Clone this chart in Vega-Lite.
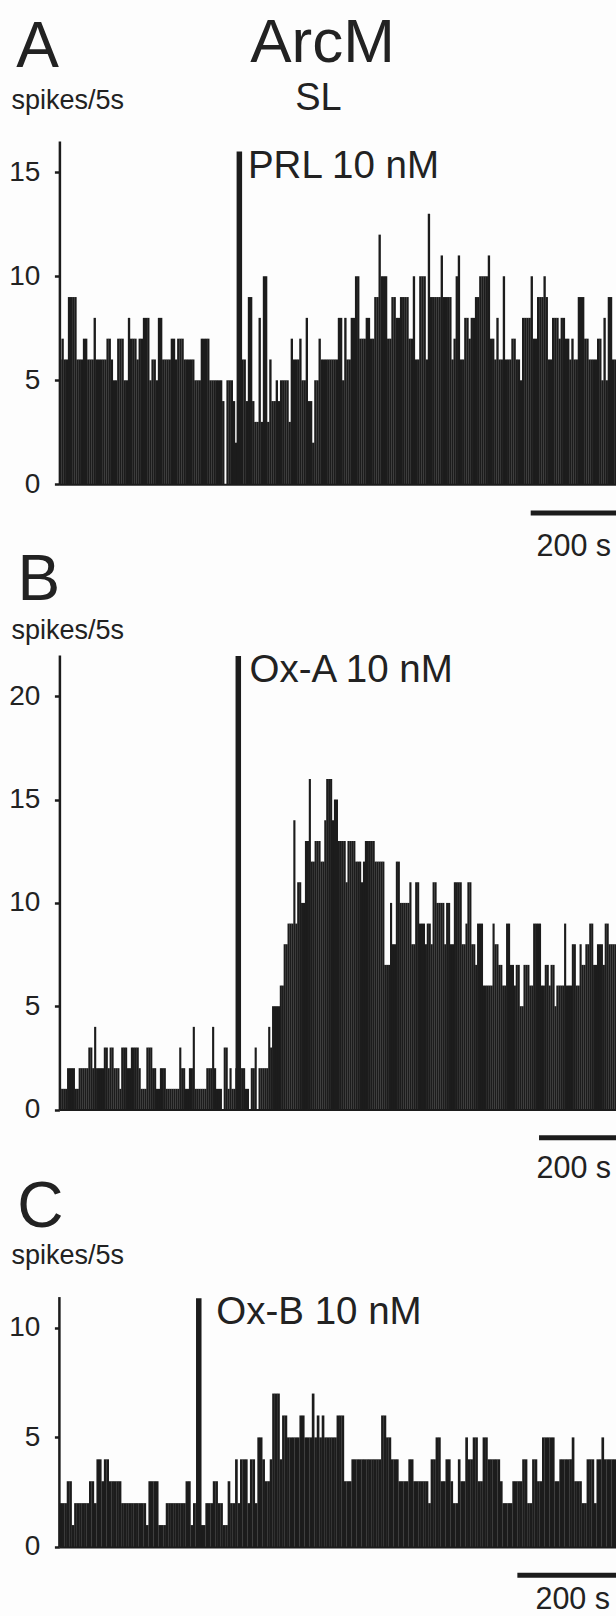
{
"$schema": "https://vega.github.io/schema/vega-lite/v6.json",
"background": "#fdfdfd",
"padding": {"left": 8.4, "top": 11, "right": 0, "bottom": 0},
"bounds": "flush",
"spacing": 170,
"config": {
  "view": {"stroke": null},
  "font": "Liberation Sans",
  "text": {"font": "Liberation Sans", "color": "#222222"},
  "scale": {"continuousPadding": 0},
  "axis": {"domainColor": "#1c1c1c", "tickColor": "#1c1c1c", "labelColor": "#222222", "labelFont": "Liberation Sans", "labelFontSize": 28, "titleFont": "Liberation Sans", "titleFontSize": 27, "titleFontWeight": "normal", "titleColor": "#222222", "grid": false},
  "axisY": {"domainWidth": 2.5, "tickWidth": 2.5, "tickSize": 5, "labelPadding": 14.5, "titleAngle": 0, "titleAlign": "left", "titleBaseline": "alphabetic", "titleX": -48.5}
},
"datasets": {
"A": [{"i":0,"v":6},{"i":1,"v":7},{"i":2,"v":6},{"i":3,"v":6},{"i":4,"v":9},{"i":5,"v":9},{"i":6,"v":9},{"i":7,"v":9},{"i":8,"v":6},{"i":9,"v":6},
{"i":10,"v":6},{"i":11,"v":7},{"i":12,"v":7},{"i":13,"v":6},{"i":14,"v":6},{"i":15,"v":6},{"i":16,"v":8},{"i":17,"v":6},{"i":18,"v":6},{"i":19,"v":6},
{"i":20,"v":6},{"i":21,"v":6},{"i":22,"v":7},{"i":23,"v":7},{"i":24,"v":6},{"i":25,"v":5},{"i":26,"v":5},{"i":27,"v":7},{"i":28,"v":7},{"i":29,"v":7},
{"i":30,"v":5},{"i":31,"v":5},{"i":32,"v":8},{"i":33,"v":7},{"i":34,"v":7},{"i":35,"v":7},{"i":36,"v":6},{"i":37,"v":7},{"i":38,"v":7},{"i":39,"v":8},
{"i":40,"v":8},{"i":41,"v":8},{"i":42,"v":5},{"i":43,"v":6},{"i":44,"v":6},{"i":45,"v":5},{"i":46,"v":8},{"i":47,"v":8},{"i":48,"v":6},{"i":49,"v":6},
{"i":50,"v":6},{"i":51,"v":6},{"i":52,"v":7},{"i":53,"v":7},{"i":54,"v":6},{"i":55,"v":7},{"i":56,"v":7},{"i":57,"v":7},{"i":58,"v":6},{"i":59,"v":6},
{"i":60,"v":6},{"i":61,"v":6},{"i":62,"v":6},{"i":63,"v":5},{"i":64,"v":5},{"i":65,"v":5},{"i":66,"v":7},{"i":67,"v":7},{"i":68,"v":7},{"i":69,"v":7},
{"i":70,"v":5},{"i":71,"v":5},{"i":72,"v":5},{"i":73,"v":5},{"i":74,"v":5},{"i":75,"v":5},{"i":76,"v":4},{"i":77,"v":0},{"i":78,"v":5},{"i":79,"v":5},
{"i":80,"v":5},{"i":81,"v":4},{"i":82,"v":2},{"i":83,"v":6},{"i":84,"v":6},{"i":85,"v":6},{"i":86,"v":6},{"i":87,"v":4},{"i":88,"v":9},{"i":89,"v":9},
{"i":90,"v":4},{"i":91,"v":3},{"i":92,"v":3},{"i":93,"v":8},{"i":94,"v":3},{"i":95,"v":10},{"i":96,"v":10},{"i":97,"v":3},{"i":98,"v":6},{"i":99,"v":4},
{"i":100,"v":4},{"i":101,"v":5},{"i":102,"v":4},{"i":103,"v":5},{"i":104,"v":5},{"i":105,"v":5},{"i":106,"v":5},{"i":107,"v":3},{"i":108,"v":7},{"i":109,"v":6},
{"i":110,"v":6},{"i":111,"v":6},{"i":112,"v":7},{"i":113,"v":5},{"i":114,"v":5},{"i":115,"v":8},{"i":116,"v":4},{"i":117,"v":4},{"i":118,"v":2},{"i":119,"v":5},
{"i":120,"v":5},{"i":121,"v":7},{"i":122,"v":6},{"i":123,"v":6},{"i":124,"v":6},{"i":125,"v":6},{"i":126,"v":6},{"i":127,"v":6},{"i":128,"v":6},{"i":129,"v":6},
{"i":130,"v":8},{"i":131,"v":8},{"i":132,"v":5},{"i":133,"v":8},{"i":134,"v":6},{"i":135,"v":6},{"i":136,"v":8},{"i":137,"v":8},{"i":138,"v":10},{"i":139,"v":10},
{"i":140,"v":7},{"i":141,"v":7},{"i":142,"v":7},{"i":143,"v":8},{"i":144,"v":8},{"i":145,"v":7},{"i":146,"v":7},{"i":147,"v":9},{"i":148,"v":9},{"i":149,"v":12},
{"i":150,"v":10},{"i":151,"v":10},{"i":152,"v":10},{"i":153,"v":7},{"i":154,"v":7},{"i":155,"v":9},{"i":156,"v":9},{"i":157,"v":8},{"i":158,"v":8},{"i":159,"v":9},
{"i":160,"v":9},{"i":161,"v":9},{"i":162,"v":9},{"i":163,"v":7},{"i":164,"v":7},{"i":165,"v":10},{"i":166,"v":6},{"i":167,"v":6},{"i":168,"v":10},{"i":169,"v":10},
{"i":170,"v":10},{"i":171,"v":6},{"i":172,"v":13},{"i":173,"v":9},{"i":174,"v":9},{"i":175,"v":9},{"i":176,"v":9},{"i":177,"v":9},{"i":178,"v":11},{"i":179,"v":9},
{"i":180,"v":9},{"i":181,"v":9},{"i":182,"v":9},{"i":183,"v":6},{"i":184,"v":7},{"i":185,"v":10},{"i":186,"v":11},{"i":187,"v":6},{"i":188,"v":6},{"i":189,"v":8},
{"i":190,"v":8},{"i":191,"v":7},{"i":192,"v":8},{"i":193,"v":8},{"i":194,"v":9},{"i":195,"v":9},{"i":196,"v":10},{"i":197,"v":10},{"i":198,"v":10},{"i":199,"v":10},
{"i":200,"v":11},{"i":201,"v":7},{"i":202,"v":7},{"i":203,"v":6},{"i":204,"v":8},{"i":205,"v":6},{"i":206,"v":6},{"i":207,"v":10},{"i":208,"v":6},{"i":209,"v":6},
{"i":210,"v":6},{"i":211,"v":7},{"i":212,"v":7},{"i":213,"v":6},{"i":214,"v":6},{"i":215,"v":5},{"i":216,"v":8},{"i":217,"v":8},{"i":218,"v":8},{"i":219,"v":8},
{"i":220,"v":10},{"i":221,"v":7},{"i":222,"v":7},{"i":223,"v":9},{"i":224,"v":9},{"i":225,"v":9},{"i":226,"v":10},{"i":227,"v":9},{"i":228,"v":6},{"i":229,"v":6},
{"i":230,"v":8},{"i":231,"v":8},{"i":232,"v":8},{"i":233,"v":7},{"i":234,"v":8},{"i":235,"v":8},{"i":236,"v":7},{"i":237,"v":7},{"i":238,"v":6},{"i":239,"v":7},
{"i":240,"v":6},{"i":241,"v":6},{"i":242,"v":9},{"i":243,"v":9},{"i":244,"v":9},{"i":245,"v":7},{"i":246,"v":7},{"i":247,"v":6},{"i":248,"v":6},{"i":249,"v":6},
{"i":250,"v":6},{"i":251,"v":7},{"i":252,"v":7},{"i":253,"v":5},{"i":254,"v":8},{"i":255,"v":5},{"i":256,"v":9},{"i":257,"v":9},{"i":258,"v":6},{"i":259,"v":6}],
"B": [{"i":0,"v":1},{"i":1,"v":1},{"i":2,"v":1},{"i":3,"v":1},{"i":4,"v":2},{"i":5,"v":2},{"i":6,"v":2},{"i":7,"v":2},{"i":8,"v":1},{"i":9,"v":1},
{"i":10,"v":2},{"i":11,"v":2},{"i":12,"v":2},{"i":13,"v":2},{"i":14,"v":2},{"i":15,"v":3},{"i":16,"v":3},{"i":17,"v":2},{"i":18,"v":4},{"i":19,"v":2},
{"i":20,"v":2},{"i":21,"v":2},{"i":22,"v":2},{"i":23,"v":3},{"i":24,"v":3},{"i":25,"v":2},{"i":26,"v":3},{"i":27,"v":3},{"i":28,"v":2},{"i":29,"v":2},
{"i":30,"v":2},{"i":31,"v":1},{"i":32,"v":3},{"i":33,"v":3},{"i":34,"v":3},{"i":35,"v":2},{"i":36,"v":2},{"i":37,"v":3},{"i":38,"v":3},{"i":39,"v":3},
{"i":40,"v":3},{"i":41,"v":2},{"i":42,"v":1},{"i":43,"v":1},{"i":44,"v":1},{"i":45,"v":3},{"i":46,"v":3},{"i":47,"v":3},{"i":48,"v":2},{"i":49,"v":2},
{"i":50,"v":1},{"i":51,"v":1},{"i":52,"v":2},{"i":53,"v":2},{"i":54,"v":2},{"i":55,"v":1},{"i":56,"v":1},{"i":57,"v":1},{"i":58,"v":1},{"i":59,"v":1},
{"i":60,"v":1},{"i":61,"v":1},{"i":62,"v":3},{"i":63,"v":2},{"i":64,"v":2},{"i":65,"v":1},{"i":66,"v":1},{"i":67,"v":2},{"i":68,"v":2},{"i":69,"v":4},
{"i":70,"v":1},{"i":71,"v":1},{"i":72,"v":1},{"i":73,"v":1},{"i":74,"v":1},{"i":75,"v":1},{"i":76,"v":2},{"i":77,"v":2},{"i":78,"v":2},{"i":79,"v":4},
{"i":80,"v":2},{"i":81,"v":1},{"i":82,"v":1},{"i":83,"v":1},{"i":84,"v":0},{"i":85,"v":3},{"i":86,"v":3},{"i":87,"v":1},{"i":88,"v":2},{"i":89,"v":1},
{"i":90,"v":1},{"i":91,"v":2},{"i":92,"v":2},{"i":93,"v":2},{"i":94,"v":2},{"i":95,"v":2},{"i":96,"v":1},{"i":97,"v":1},{"i":98,"v":0},{"i":99,"v":2},
{"i":100,"v":2},{"i":101,"v":3},{"i":102,"v":0},{"i":103,"v":2},{"i":104,"v":2},{"i":105,"v":2},{"i":106,"v":2},{"i":107,"v":2},{"i":108,"v":4},{"i":109,"v":3},
{"i":110,"v":5},{"i":111,"v":5},{"i":112,"v":5},{"i":113,"v":5},{"i":114,"v":6},{"i":115,"v":6},{"i":116,"v":8},{"i":117,"v":8},{"i":118,"v":9},{"i":119,"v":9},
{"i":120,"v":9},{"i":121,"v":14},{"i":122,"v":9},{"i":123,"v":11},{"i":124,"v":11},{"i":125,"v":10},{"i":126,"v":10},{"i":127,"v":13},{"i":128,"v":13},{"i":129,"v":16},
{"i":130,"v":12},{"i":131,"v":12},{"i":132,"v":13},{"i":133,"v":13},{"i":134,"v":13},{"i":135,"v":12},{"i":136,"v":12},{"i":137,"v":14},{"i":138,"v":16},{"i":139,"v":16},
{"i":140,"v":16},{"i":141,"v":14},{"i":142,"v":15},{"i":143,"v":15},{"i":144,"v":13},{"i":145,"v":13},{"i":146,"v":13},{"i":147,"v":13},{"i":148,"v":11},{"i":149,"v":13},
{"i":150,"v":13},{"i":151,"v":13},{"i":152,"v":13},{"i":153,"v":12},{"i":154,"v":12},{"i":155,"v":12},{"i":156,"v":11},{"i":157,"v":12},{"i":158,"v":13},{"i":159,"v":13},
{"i":160,"v":13},{"i":161,"v":13},{"i":162,"v":13},{"i":163,"v":12},{"i":164,"v":12},{"i":165,"v":12},{"i":166,"v":12},{"i":167,"v":12},{"i":168,"v":7},{"i":169,"v":7},
{"i":170,"v":7},{"i":171,"v":10},{"i":172,"v":8},{"i":173,"v":8},{"i":174,"v":12},{"i":175,"v":12},{"i":176,"v":10},{"i":177,"v":10},{"i":178,"v":10},{"i":179,"v":10},
{"i":180,"v":10},{"i":181,"v":11},{"i":182,"v":8},{"i":183,"v":8},{"i":184,"v":11},{"i":185,"v":11},{"i":186,"v":9},{"i":187,"v":9},{"i":188,"v":9},{"i":189,"v":8},
{"i":190,"v":9},{"i":191,"v":9},{"i":192,"v":8},{"i":193,"v":11},{"i":194,"v":11},{"i":195,"v":10},{"i":196,"v":10},{"i":197,"v":10},{"i":198,"v":10},{"i":199,"v":8},
{"i":200,"v":10},{"i":201,"v":10},{"i":202,"v":8},{"i":203,"v":8},{"i":204,"v":11},{"i":205,"v":11},{"i":206,"v":11},{"i":207,"v":11},{"i":208,"v":8},{"i":209,"v":8},
{"i":210,"v":9},{"i":211,"v":11},{"i":212,"v":11},{"i":213,"v":8},{"i":214,"v":8},{"i":215,"v":7},{"i":216,"v":9},{"i":217,"v":9},{"i":218,"v":9},{"i":219,"v":6},
{"i":220,"v":6},{"i":221,"v":6},{"i":222,"v":6},{"i":223,"v":6},{"i":224,"v":9},{"i":225,"v":8},{"i":226,"v":8},{"i":227,"v":7},{"i":228,"v":7},{"i":229,"v":6},
{"i":230,"v":6},{"i":231,"v":9},{"i":232,"v":9},{"i":233,"v":7},{"i":234,"v":7},{"i":235,"v":6},{"i":236,"v":7},{"i":237,"v":7},{"i":238,"v":5},{"i":239,"v":5},
{"i":240,"v":7},{"i":241,"v":7},{"i":242,"v":7},{"i":243,"v":6},{"i":244,"v":6},{"i":245,"v":9},{"i":246,"v":9},{"i":247,"v":9},{"i":248,"v":9},{"i":249,"v":6},
{"i":250,"v":6},{"i":251,"v":7},{"i":252,"v":7},{"i":253,"v":6},{"i":254,"v":7},{"i":255,"v":7},{"i":256,"v":5},{"i":257,"v":6},{"i":258,"v":6},{"i":259,"v":6},
{"i":260,"v":6},{"i":261,"v":9},{"i":262,"v":6},{"i":263,"v":6},{"i":264,"v":6},{"i":265,"v":8},{"i":266,"v":8},{"i":267,"v":6},{"i":268,"v":6},{"i":269,"v":8},
{"i":270,"v":7},{"i":271,"v":7},{"i":272,"v":8},{"i":273,"v":8},{"i":274,"v":9},{"i":275,"v":9},{"i":276,"v":7},{"i":277,"v":7},{"i":278,"v":8},{"i":279,"v":8},
{"i":280,"v":8},{"i":281,"v":7},{"i":282,"v":9},{"i":283,"v":9},{"i":284,"v":8},{"i":285,"v":8},{"i":286,"v":8},{"i":287,"v":8}],
"C": [{"i":0,"v":2},{"i":1,"v":2},{"i":2,"v":2},{"i":3,"v":3},{"i":4,"v":3},{"i":5,"v":1},{"i":6,"v":2},{"i":7,"v":2},{"i":8,"v":2},{"i":9,"v":2},
{"i":10,"v":2},{"i":11,"v":2},{"i":12,"v":3},{"i":13,"v":3},{"i":14,"v":2},{"i":15,"v":4},{"i":16,"v":4},{"i":17,"v":3},{"i":18,"v":4},{"i":19,"v":4},
{"i":20,"v":3},{"i":21,"v":3},{"i":22,"v":3},{"i":23,"v":3},{"i":24,"v":3},{"i":25,"v":2},{"i":26,"v":2},{"i":27,"v":2},{"i":28,"v":2},{"i":29,"v":2},
{"i":30,"v":2},{"i":31,"v":2},{"i":32,"v":2},{"i":33,"v":2},{"i":34,"v":2},{"i":35,"v":1},{"i":36,"v":3},{"i":37,"v":3},{"i":38,"v":3},{"i":39,"v":3},
{"i":40,"v":1},{"i":41,"v":1},{"i":42,"v":1},{"i":43,"v":2},{"i":44,"v":2},{"i":45,"v":2},{"i":46,"v":2},{"i":47,"v":2},{"i":48,"v":2},{"i":49,"v":2},
{"i":50,"v":2},{"i":51,"v":3},{"i":52,"v":3},{"i":53,"v":1},{"i":54,"v":2},{"i":55,"v":2},{"i":56,"v":2},{"i":57,"v":1},{"i":58,"v":1},{"i":59,"v":2},
{"i":60,"v":2},{"i":61,"v":2},{"i":62,"v":3},{"i":63,"v":3},{"i":64,"v":2},{"i":65,"v":2},{"i":66,"v":1},{"i":67,"v":1},{"i":68,"v":3},{"i":69,"v":2},
{"i":70,"v":2},{"i":71,"v":4},{"i":72,"v":2},{"i":73,"v":4},{"i":74,"v":4},{"i":75,"v":4},{"i":76,"v":2},{"i":77,"v":4},{"i":78,"v":4},{"i":79,"v":2},
{"i":80,"v":5},{"i":81,"v":5},{"i":82,"v":4},{"i":83,"v":3},{"i":84,"v":3},{"i":85,"v":4},{"i":86,"v":7},{"i":87,"v":7},{"i":88,"v":7},{"i":89,"v":4},
{"i":90,"v":6},{"i":91,"v":6},{"i":92,"v":5},{"i":93,"v":5},{"i":94,"v":5},{"i":95,"v":5},{"i":96,"v":5},{"i":97,"v":6},{"i":98,"v":6},{"i":99,"v":5},
{"i":100,"v":5},{"i":101,"v":5},{"i":102,"v":7},{"i":103,"v":5},{"i":104,"v":6},{"i":105,"v":5},{"i":106,"v":6},{"i":107,"v":5},{"i":108,"v":5},{"i":109,"v":5},
{"i":110,"v":5},{"i":111,"v":5},{"i":112,"v":6},{"i":113,"v":6},{"i":114,"v":6},{"i":115,"v":3},{"i":116,"v":3},{"i":117,"v":3},{"i":118,"v":4},{"i":119,"v":4},
{"i":120,"v":4},{"i":121,"v":4},{"i":122,"v":4},{"i":123,"v":4},{"i":124,"v":4},{"i":125,"v":4},{"i":126,"v":4},{"i":127,"v":4},{"i":128,"v":4},{"i":129,"v":4},
{"i":130,"v":6},{"i":131,"v":6},{"i":132,"v":5},{"i":133,"v":5},{"i":134,"v":4},{"i":135,"v":4},{"i":136,"v":4},{"i":137,"v":3},{"i":138,"v":3},{"i":139,"v":3},
{"i":140,"v":3},{"i":141,"v":4},{"i":142,"v":4},{"i":143,"v":3},{"i":144,"v":3},{"i":145,"v":3},{"i":146,"v":3},{"i":147,"v":3},{"i":148,"v":3},{"i":149,"v":2},
{"i":150,"v":4},{"i":151,"v":4},{"i":152,"v":5},{"i":153,"v":5},{"i":154,"v":3},{"i":155,"v":3},{"i":156,"v":4},{"i":157,"v":4},{"i":158,"v":3},{"i":159,"v":2},
{"i":160,"v":2},{"i":161,"v":4},{"i":162,"v":3},{"i":163,"v":3},{"i":164,"v":5},{"i":165,"v":4},{"i":166,"v":4},{"i":167,"v":5},{"i":168,"v":5},{"i":169,"v":3},
{"i":170,"v":3},{"i":171,"v":5},{"i":172,"v":5},{"i":173,"v":4},{"i":174,"v":4},{"i":175,"v":4},{"i":176,"v":4},{"i":177,"v":4},{"i":178,"v":3},{"i":179,"v":2},
{"i":180,"v":2},{"i":181,"v":2},{"i":182,"v":2},{"i":183,"v":3},{"i":184,"v":3},{"i":185,"v":3},{"i":186,"v":3},{"i":187,"v":4},{"i":188,"v":4},{"i":189,"v":2},
{"i":190,"v":2},{"i":191,"v":4},{"i":192,"v":4},{"i":193,"v":3},{"i":194,"v":3},{"i":195,"v":5},{"i":196,"v":5},{"i":197,"v":5},{"i":198,"v":5},{"i":199,"v":5},
{"i":200,"v":3},{"i":201,"v":3},{"i":202,"v":4},{"i":203,"v":4},{"i":204,"v":4},{"i":205,"v":4},{"i":206,"v":4},{"i":207,"v":5},{"i":208,"v":3},{"i":209,"v":3},
{"i":210,"v":3},{"i":211,"v":2},{"i":212,"v":2},{"i":213,"v":4},{"i":214,"v":4},{"i":215,"v":4},{"i":216,"v":2},{"i":217,"v":4},{"i":218,"v":4},{"i":219,"v":5},
{"i":220,"v":4},{"i":221,"v":4},{"i":222,"v":4},{"i":223,"v":4},{"i":224,"v":4}]
},
"vconcat": [
{
  "width": 557, "height": 343.3,
  "layer": [
    {"data": {"name": "A"},
     "mark": {"type": "bar", "width": 2.35, "color": "#1c1c1c"},
     "encoding": {
       "x": {"field": "i", "type": "quantitative", "title": null, "scale": {"domain": [-0.5, 259.5], "nice": false, "zero": false, "padding": 0}, "axis": {"domain": true, "domainWidth": 2, "ticks": false, "labels": false, "title": null}},
       "y": {"field": "v", "type": "quantitative", "scale": {"domain": [0, 16.5], "nice": false}, "axis": {"values": [0, 5, 10, 15], "title": "spikes/5s", "titleY": -32.7}}
     }},
    {"data": {"values": [{}]}, "mark": {"type": "rule", "strokeWidth": 5.5, "color": "#1c1c1c"},
     "encoding": {"x": {"datum": 83.5}, "y": {"datum": 0}, "y2": {"datum": 16.0}}},
    {"data": {"values": [{}]}, "mark": {"type": "text", "text": "PRL 10 nM", "align": "left", "baseline": "alphabetic", "fontSize": 38.5},
     "encoding": {"x": {"datum": 87.5}, "y": {"datum": 14.74}}},
    {"data": {"values": [{}]}, "mark": {"type": "rule", "strokeWidth": 5, "color": "#1c1c1c"},
     "encoding": {"x": {"datum": 219.5}, "x2": {"datum": 259.5}, "y": {"datum": -1.38}}},
    {"data": {"values": [{}]}, "mark": {"type": "text", "text": "200 s", "align": "left", "baseline": "alphabetic", "fontSize": 30.5},
     "encoding": {"x": {"datum": 222.2}, "y": {"datum": -3.45}}},
    {"data": {"values": [{}]}, "mark": {"type": "text", "text": "A", "align": "left", "baseline": "alphabetic", "fontSize": 64},
     "encoding": {"x": {"datum": -20.6}, "y": {"datum": 20.06}}},
    {"data": {"values": [{}]}, "mark": {"type": "text", "text": "ArcM", "align": "center", "baseline": "alphabetic", "fontSize": 62},
     "encoding": {"x": {"datum": 122.3}, "y": {"datum": 20.3}}},
    {"data": {"values": [{}]}, "mark": {"type": "text", "text": "SL", "align": "center", "baseline": "alphabetic", "fontSize": 38},
     "encoding": {"x": {"datum": 120.4}, "y": {"datum": 18.0}}}
  ]
},
{
  "width": 557, "height": 454.5,
  "layer": [
    {"data": {"name": "B"},
     "mark": {"type": "bar", "width": 2.13, "color": "#1c1c1c"},
     "encoding": {
       "x": {"field": "i", "type": "quantitative", "title": null, "scale": {"domain": [-0.5, 287.5], "nice": false, "zero": false, "padding": 0}, "axis": {"domain": true, "domainWidth": 2, "ticks": false, "labels": false, "title": null}},
       "y": {"field": "v", "type": "quantitative", "scale": {"domain": [0, 22], "nice": false}, "axis": {"values": [0, 5, 10, 15, 20], "title": "spikes/5s", "titleY": -16.6}}
     }},
    {"data": {"values": [{}]}, "mark": {"type": "rule", "strokeWidth": 5.5, "color": "#1c1c1c"},
     "encoding": {"x": {"datum": 92.0}, "y": {"datum": 0}, "y2": {"datum": 21.95}}},
    {"data": {"values": [{}]}, "mark": {"type": "text", "text": "Ox-A 10 nM", "align": "left", "baseline": "alphabetic", "fontSize": 38.5},
     "encoding": {"x": {"datum": 97.8}, "y": {"datum": 20.71}}},
    {"data": {"values": [{}]}, "mark": {"type": "rule", "strokeWidth": 5, "color": "#1c1c1c"},
     "encoding": {"x": {"datum": 247.5}, "x2": {"datum": 287.5}, "y": {"datum": -1.365}}},
    {"data": {"values": [{}]}, "mark": {"type": "text", "text": "200 s", "align": "left", "baseline": "alphabetic", "fontSize": 30.5},
     "encoding": {"x": {"datum": 246.2}, "y": {"datum": -3.33}}},
    {"data": {"values": [{}]}, "mark": {"type": "text", "text": "B", "align": "left", "baseline": "alphabetic", "fontSize": 64},
     "encoding": {"x": {"datum": -22.2}, "y": {"datum": 24.68}}}
  ]
},
{
  "width": 557, "height": 267,
  "layer": [
    {"data": {"name": "C"},
     "mark": {"type": "bar", "width": 2.68, "color": "#1c1c1c"},
     "encoding": {
       "x": {"field": "i", "type": "quantitative", "title": null, "scale": {"domain": [-0.5, 224.5], "nice": false, "zero": false, "padding": 0}, "axis": {"domain": true, "domainWidth": 2, "ticks": false, "labels": false, "title": null}},
       "y": {"field": "v", "type": "quantitative", "scale": {"domain": [0, 12.18], "nice": false}, "axis": {"values": [0, 5, 10], "domain": false, "title": "spikes/5s", "titleY": -16.1}}
     }},
    {"data": {"values": [{}]}, "mark": {"type": "rule", "strokeWidth": 2.5, "color": "#1c1c1c"},
     "encoding": {"x": {"datum": -0.5}, "y": {"datum": 0}, "y2": {"datum": 11.4}}},
    {"data": {"values": [{}]}, "mark": {"type": "rule", "strokeWidth": 5.5, "color": "#1c1c1c"},
     "encoding": {"x": {"datum": 55.8}, "y": {"datum": 0}, "y2": {"datum": 11.35}}},
    {"data": {"values": [{}]}, "mark": {"type": "text", "text": "Ox-B 10 nM", "align": "left", "baseline": "alphabetic", "fontSize": 38.5},
     "encoding": {"x": {"datum": 62.9}, "y": {"datum": 10.18}}},
    {"data": {"values": [{}]}, "mark": {"type": "rule", "strokeWidth": 5, "color": "#1c1c1c"},
     "encoding": {"x": {"datum": 184.5}, "x2": {"datum": 224.5}, "y": {"datum": -1.29}}},
    {"data": {"values": [{}]}, "mark": {"type": "text", "text": "200 s", "align": "left", "baseline": "alphabetic", "fontSize": 30.5},
     "encoding": {"x": {"datum": 191.8}, "y": {"datum": -2.82}}},
    {"data": {"values": [{}]}, "mark": {"type": "text", "text": "C", "align": "left", "baseline": "alphabetic", "fontSize": 64},
     "encoding": {"x": {"datum": -17.5}, "y": {"datum": 14.59}}}
  ]
}
]
}
